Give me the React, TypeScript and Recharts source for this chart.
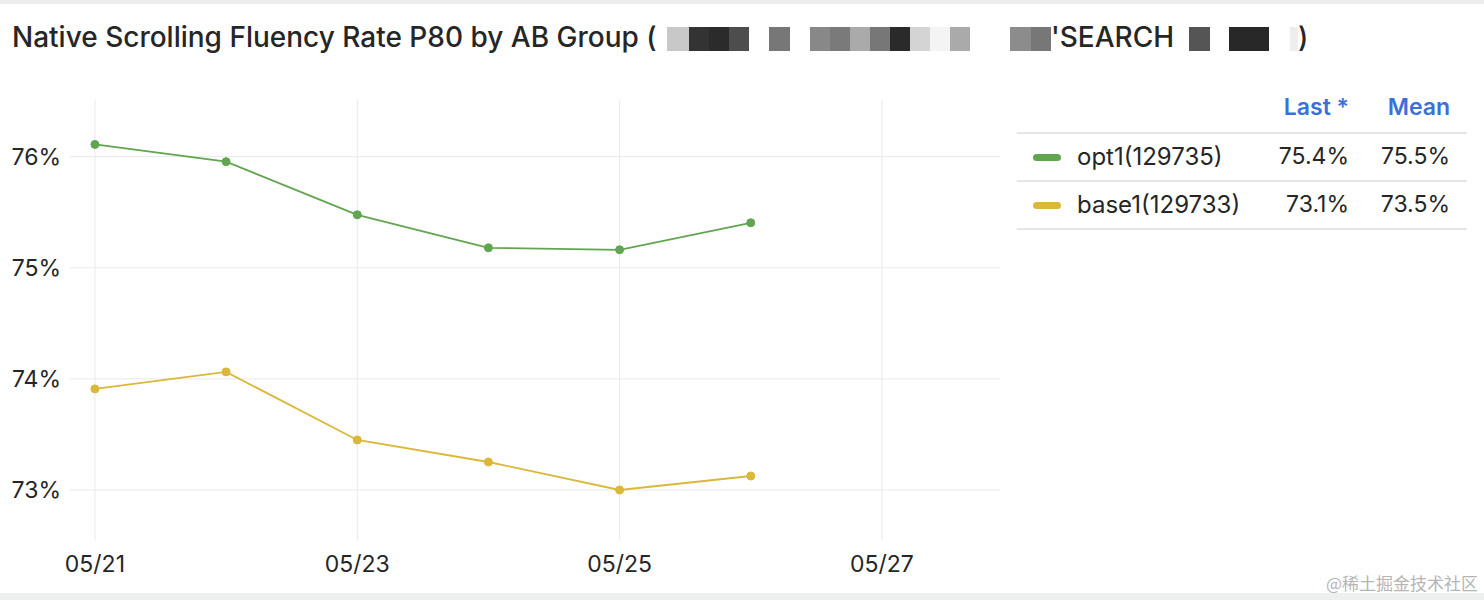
import { Line, LineChart, ReferenceLine, XAxis, YAxis } from "recharts";

const dates = ["05/21", "05/22", "05/23", "05/24", "05/25", "05/26"];
const optValues = [76.11, 75.955, 75.477, 75.18, 75.162, 75.405];
const baseValues = [73.91, 74.063, 73.45, 73.252, 73.0, 73.126];
const xTickLabels = ["05/21", "05/23", "05/25", "05/27"];
const yTicks = [73, 74, 75, 76];

const seriesNames = ["opt1(129735)", "base1(129733)"];
const lastValues = ["75.4%", "73.1%"];
const meanValues = ["75.5%", "73.5%"];
const colors = ["#62a550", "#dbb73a"];

const dayOf = (label: string) => Number(label.slice(3)) - 21;

const data = dates.map((d, i) => ({ day: dayOf(d), opt: optValues[i], base: baseValues[i] }));
const xTicks = xTickLabels.map(dayOf);

// pixelated redaction in the title: [left, width, colour]
const redaction: [number, number, string][] = [
  [667, 22, "#c8c8c8"], [689, 20, "#333"], [709, 20, "#2b2b2b"], [729, 20, "#4d4d4d"],
  [769, 21, "#777"], [810, 20, "#888"], [830, 20, "#7a7a7a"], [850, 20, "#aaa"],
  [870, 20, "#777"], [890, 20, "#2a2a2a"], [910, 20, "#d4d4d4"], [930, 20, "#f4f4f4"],
  [950, 20, "#aaa"], [1010, 21, "#8c8c8c"], [1031, 20, "#777"], [1189, 21, "#555"],
  [1229, 40, "#282828"], [1290, 8, "#eee"],
];

const font = "Inter, 'Noto Sans', sans-serif";
const ink = "#262626";
const gridColor = "#e9e9e9";
const titleStyle = { position: "absolute", top: 20, fontSize: 28, fontWeight: 500, lineHeight: "34px", whiteSpace: "nowrap" } as const;

export default function App() {
  return <div style={{ position: "absolute", left: 0, top: 0, width: 1484, height: 600, background: "#fff", fontFamily: font, color: ink, overflow: "hidden" }}>
    <div style={{ position: "absolute", left: 0, top: 0, width: 1484, height: 4, background: "#ececec" }} />
    <div style={{ position: "absolute", left: 0, top: 593, width: 1484, height: 7, background: "#eef0f0" }} />

    <div style={{ ...titleStyle, left: 12 }}>Native Scrolling Fluency Rate P80 by AB Group (</div>
    {redaction.map(([x, w, c]) => <div key={x} style={{ position: "absolute", left: x, top: 27, width: w, height: 24, background: c }} />)}
    <div style={{ ...titleStyle, left: 1051 }}>'SEARCH</div>
    <div style={{ ...titleStyle, left: 1298 }}>)</div>

    <div style={{ position: "absolute", left: 0, top: 0 }}>
      <LineChart width={1000} height={600} data={data} margin={{ top: 100, right: 0, bottom: 0, left: 0 }}>
        <XAxis type="number" dataKey="day" domain={[-0.19, 6.9]} ticks={xTicks} allowDataOverflow
          tickFormatter={(v: number) => xTickLabels[xTicks.indexOf(v)]} axisLine={false} tickLine={false}
          height={60} tickMargin={10} tick={{ fill: ink, fontSize: 23, fontFamily: font }} />
        <YAxis type="number" domain={[72.55, 76.51]} ticks={yTicks} allowDataOverflow width={70}
          tickFormatter={(v: number) => `${v}%`} axisLine={false} tickLine={false} tickMargin={3}
          tick={{ fill: ink, fontSize: 23, fontFamily: font }} />
        {xTicks.map((t) => <ReferenceLine key={`x${t}`} x={t} stroke={gridColor} />)}
        {yTicks.map((t) => <ReferenceLine key={`y${t}`} y={t} stroke={gridColor} />)}
        <Line dataKey="opt" stroke={colors[0]} strokeWidth={1.8} dot={{ r: 4, fill: colors[0], stroke: colors[0], strokeWidth: 1 }} isAnimationActive={false} />
        <Line dataKey="base" stroke={colors[1]} strokeWidth={1.8} dot={{ r: 4, fill: colors[1], stroke: colors[1], strokeWidth: 1 }} isAnimationActive={false} />
      </LineChart>
    </div>

    <div style={{ position: "absolute", left: 1017, top: 90, width: 450, fontSize: 23 }}>
      <div style={{ position: "relative", height: 42, borderBottom: "2px solid #e6e6e6", color: "#3b6fd9", fontWeight: 600 }}>
        <span style={{ position: "absolute", right: 118, top: 3 }}>Last *</span>
        <span style={{ position: "absolute", right: 17, top: 3 }}>Mean</span>
      </div>
      {seriesNames.map((name, i) => <div key={name} style={{ position: "relative", height: 46, borderBottom: "2px solid #e6e6e6" }}>
        <div style={{ position: "absolute", left: 16, top: 20, width: 28, height: 7, borderRadius: 4, background: colors[i] }} />
        <span style={{ position: "absolute", left: 60, top: 8, fontSize: 24 }}>{name}</span>
        <span style={{ position: "absolute", right: 118, top: 8 }}>{lastValues[i]}</span>
        <span style={{ position: "absolute", right: 17, top: 8 }}>{meanValues[i]}</span>
      </div>)}
    </div>

    <div style={{ position: "absolute", right: 6, top: 570, fontSize: 17, color: "#b5b5b5", fontFamily: "'Noto Sans CJK SC', sans-serif" }}>@稀土掘金技术社区</div>
  </div>;
}
